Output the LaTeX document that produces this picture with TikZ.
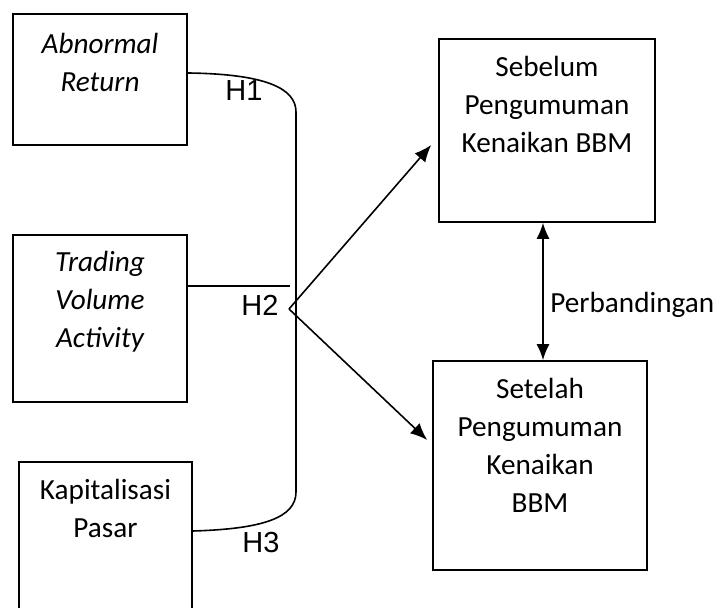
\documentclass[tikz,border=0pt]{standalone}
\usepackage{fontspec}
\setmainfont{Carlito}
\newfontfamily\hypfont{Liberation Sans}
\usetikzlibrary{positioning,calc,arrows.meta}
\tikzset{
  box/.style={draw, line width=0.8pt, rectangle, inner sep=0pt},
  boxtext/.style={align=center, anchor=north, inner sep=0pt,
    font=\fontsize{14.6}{19}\selectfont},
  hyp/.style={inner sep=0pt, font=\hypfont\fontsize{14.5}{17}\selectfont},
  conn/.style={line width=0.8pt},
  arr/.style={conn, -{Latex[length=8.5pt,width=7pt]}},
  dblarr/.style={conn, {Latex[length=8pt,width=6.5pt]}-{Latex[length=8pt,width=6.5pt]}},
}

\begin{document}
\begin{tikzpicture}[x=0.5pt,y=-0.5pt]
\useasboundingbox (0,0) rectangle (717,608);
% independent variables
\node[box, minimum width=87pt, minimum height=65.5pt] (abn) at (100,79.5) {};
\node[box, minimum width=87pt, minimum height=83.5pt] (tva) at (100,318.5) {};
\node[box, minimum width=86.5pt, minimum height=75pt] (kap) at (105.5,537) {};
\node[boxtext] (abntxt) at ($(abn.north)+(0,20)$) {\itshape Abnormal\\\itshape Return};
\node[boxtext] (tvatxt) at ($(tva.north)+(0,17)$) {\itshape Trading\\\itshape Volume\\\itshape Activity};
\node[boxtext] (kaptxt) at ($(kap.north)+(0,18)$) {Kapitalisasi\\Pasar};
% periods
\node[box, minimum width=108pt, minimum height=91.5pt] (seb) at (547,130.5) {};
\node[box, minimum width=107pt, minimum height=104.5pt] (set) at (540,465.5) {};
\node[boxtext] (sebtxt) at ($(seb.north)+(0,18)$) {Sebelum\\Pengumuman\\Kenaikan BBM};
\node[boxtext] (settxt) at ($(set.north)+(0,18)$) {Setelah\\Pengumuman\\Kenaikan\\BBM};

% hypotheses bracket
\coordinate (h1end) at ($(abn.east)+(0,-6.5)$);
\coordinate (h3end) at ($(kap.east)+(0,-6)$);
\coordinate (h2end) at (290,286);
\coordinate (top) at (296,112);
\coordinate (bot) at (296,492);
\coordinate (hub) at (289,309);
\draw[conn] (h1end) .. controls (265,74) and (296,88) .. (top) -- (bot)
  .. controls (296,518) and (262,529) .. (h3end);
\draw[conn] (tva.east |- h2end) -- (h2end);
\node[hyp] (h1) at (244,91) {H1};
\node[hyp] (h2) at (260,305) {H2};
\node[hyp] (h3) at (261,543) {H3};

% arrows
\draw[arr] (hub) -- ($(seb.west)+(-7,14.5)$);
\draw[arr] (hub) -- ($(set.west)+(-5,-25.5)$);
\draw[dblarr] ([xshift=-2pt]seb.south) -- ([xshift=1.5pt]set.north);
\node[anchor=west, inner sep=0pt, font=\fontsize{14.6}{19}\selectfont] (cmp) at (550,305) {Perbandingan};
\end{tikzpicture}
\end{document}
